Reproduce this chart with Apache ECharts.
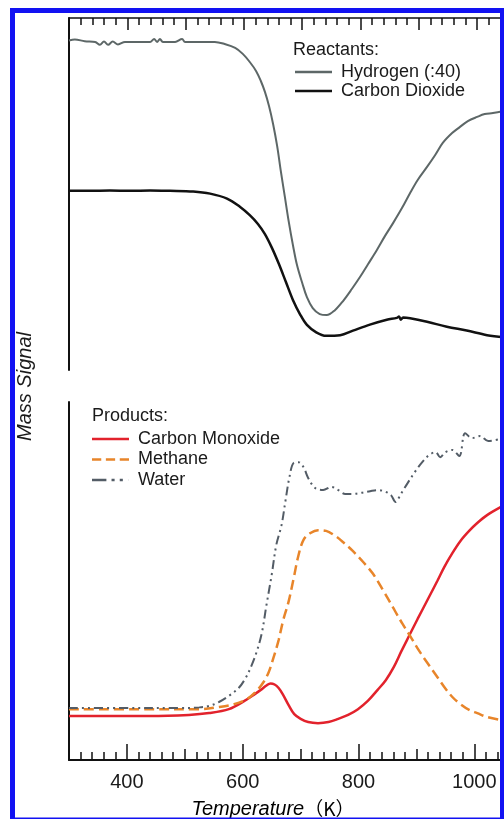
<!DOCTYPE html>
<html><head><meta charset="utf-8">
<script src="https://cdn.jsdelivr.net/npm/echarts@6.0.0/dist/echarts.min.js"></script>
<style>html,body{margin:0;padding:0;background:#fff;}#c{width:504px;height:819px;}</style>
</head><body><div id="c"></div>
<script>
// ---- data (temperature in K, mass signal in arbitrary units) ----
const xLabelValues = [400, 600, 800, 1000];

const h2Temp = [300,310,327,345,353,360,367,375,384,396,413,439,446,451,456,461,482,494,499,525,550,567,585,598,610,621,629,636,643,650,657,663,670,677,684,691,700,708,718,730,742,756,770,785,799,813,828,842,856,871,885,898,914,928,941,957,970,984,1000,1013,1027,1046];
const h2Signal = [93.6,93.9,93.4,93.2,92.4,93.3,92.4,93.3,92.5,93.2,93.2,93.2,94.0,93.2,94.0,93.2,93.2,94.0,93.2,93.2,93.2,92.6,91.5,89.8,87.5,84.9,82.1,79.0,75.0,69.9,63.6,56.8,49.4,42.0,35.5,29.8,24.7,20.7,17.6,15.9,15.6,17.0,19.6,23.0,26.4,30.1,34.1,38.1,41.8,46.0,50.3,54.0,57.7,61.1,64.5,67.3,69.0,70.7,71.9,72.7,73.0,73.6];

const co2Temp = [300,336,370,405,439,473,513,542,571,593,610,624,636,648,660,672,684,696,708,724,741,765,787,816,845,862,866,869,873,885,914,948,982,1017,1046];
const co2Signal = [50.9,50.9,51.0,50.9,51.0,50.9,50.7,50.1,48.7,46.4,44.0,41.5,38.6,34.7,30.1,25.0,19.9,15.9,12.8,10.7,9.7,9.9,11.2,12.9,14.3,14.8,15.2,14.3,14.9,14.7,13.7,12.3,11.2,9.9,9.3];

const coTemp = [300,439,507,542,576,603,619,633,641,648,655,662,669,679,689,700,713,730,748,765,782,799,816,833,847,861,874,888,902,919,936,948,962,976,991,1005,1022,1046];
const coSignal = [12.3,12.3,12.6,13.1,14.2,16.5,18.2,19.8,20.8,21.4,21.1,20.1,18.4,15.4,12.8,11.5,10.6,10.3,10.6,11.5,12.6,14.2,16.5,19.6,22.3,26.0,30.4,34.9,39.4,44.7,50.0,53.9,57.8,61.2,64.0,66.2,68.4,70.7];

const ch4Temp = [300,439,525,559,585,607,624,636,645,653,662,670,679,688,696,705,717,730,744,758,773,790,808,825,842,862,876,890,905,919,936,948,962,976,991,1005,1022,1046];
const ch4Signal = [14.2,14.2,14.2,14.8,15.6,17.0,19.3,21.8,24.6,28.5,33.5,39.1,44.1,50.8,57.0,61.5,63.4,64.2,64.0,62.8,60.9,58.4,55.3,52.0,47.5,41.9,38.0,34.4,30.4,27.1,23.2,20.4,17.6,15.6,14.0,13.1,12.0,11.2];

const h2oTemp = [300,387,490,525,542,559,576,593,605,615,624,633,641,650,658,667,674,681,688,696,705,713,725,739,753,765,777,790,804,820,833,847,856,864,873,885,897,910,922,933,941,950,962,974,984,996,1010,1024,1046];
const h2oSignal = [14.5,14.5,14.5,14.7,15.1,16.2,17.9,20.1,22.9,26.3,30.2,35.5,43.3,51.7,60.1,65.6,72.6,79.3,83.0,83.2,81.8,78.8,76.0,75.4,76.3,75.4,74.3,74.3,74.6,75.1,75.4,74.9,74.0,72.1,74.3,77.4,80.4,83.2,85.2,86.0,84.6,86.0,86.6,84.9,91.3,89.9,90.5,89.1,89.7];

// ---- build ----
function pairs(t, s) { return t.map((v, i) => [v, s[i]]); }
const FONT = "'Liberation Sans', Arial, sans-serif";
const CJK = "'Noto Sans CJK SC', 'Liberation Sans', sans-serif";
const INK = '#1a1a1a';
const XMIN = 300, XMAX = 1046;

const ICON_SOLID = 'path://M0,0H36V2.5H0Z';
const ICON_DASH = 'path://M0,0H9V2.5H0Z M13.5,0H22.5V2.5H13.5Z M27,0H36V2.5H27Z';
const ICON_DASHDOT = 'path://M0,0H14V2.5H0Z M19,0H22V2.5H19Z M27,0H30V2.5H27Z M35.9,0H36V2.5H35.9Z';

function baseX(grid, pos, interval, len, showLine, lw) {
  return {
    type: 'value', gridIndex: grid, position: pos, min: XMIN, max: XMAX, interval: interval,
    axisLine: { show: showLine, onZero: false, lineStyle: { color: '#111', width: lw } },
    axisTick: { show: true, inside: true, length: len, lineStyle: { color: '#111', width: 1.5 } },
    axisLabel: { show: false },
    splitLine: { show: false }
  };
}

const x0 = baseX(0, 'top', 100, 12, true, 1.5);
const x1 = baseX(0, 'top', 20, 7, false, 1);
const x2 = baseX(1, 'bottom', 100, 11, true, 2);
x2.axisLabel = {
  show: true, margin: 12, fontSize: 20, fontFamily: FONT, color: INK,
  formatter: function (v) { return xLabelValues.indexOf(v) >= 0 ? String(v) : ''; }
};
const x3 = baseX(1, 'bottom', 20, 8, false, 1);
const x4 = baseX(1, 'bottom', 100, 16, false, 1);
delete x4.interval;
x4.axisTick.customValues = xLabelValues;

function baseY(grid) {
  return {
    type: 'value', gridIndex: grid, min: 0, max: 100,
    axisLine: { show: true, lineStyle: { color: '#111', width: 2 } },
    axisTick: { show: false }, axisLabel: { show: false }, splitLine: { show: false }
  };
}

function lineSeries(name, xi, yi, t, s, color, width, type) {
  return {
    name: name, type: 'line', xAxisIndex: xi, yAxisIndex: yi, data: pairs(t, s),
    symbol: 'none', smooth: 0.35, color: color,
    lineStyle: { color: color, width: width, type: type || 'solid' }
  };
}

const chart = echarts.init(document.getElementById('c'), null, { renderer: 'canvas' });
chart.setOption({
  animation: false,
  backgroundColor: '#ffffff',
  grid: [
    { left: 69, right: 0, top: 18, height: 352 },
    { left: 69, right: 0, top: 402, height: 358 }
  ],
  xAxis: [x0, x1, x2, x3, x4],
  yAxis: [baseY(0), baseY(1)],
  legend: [
    {
      orient: 'vertical', left: 295, top: 62.5, padding: 0, itemGap: 0,
      itemWidth: 37, itemHeight: 10, selectedMode: false,
      textStyle: { fontSize: 18, fontFamily: FONT, color: INK, lineHeight: 19, padding: [0, 0, 0, 4] },
      data: [
        { name: 'Hydrogen (:40)', icon: ICON_SOLID },
        { name: 'Carbon Dioxide', icon: ICON_SOLID }
      ]
    },
    {
      orient: 'vertical', left: 92, top: 429, padding: 0, itemGap: 0.5,
      itemWidth: 37, itemHeight: 10, selectedMode: false,
      textStyle: { fontSize: 18, fontFamily: FONT, color: INK, lineHeight: 20, padding: [0, 0, 0, 4] },
      data: [
        { name: 'Carbon Monoxide', icon: ICON_SOLID },
        { name: 'Methane', icon: ICON_DASH },
        { name: 'Water', icon: ICON_DASHDOT }
      ]
    }
  ],
  series: [
    lineSeries('Hydrogen (:40)', 0, 0, h2Temp, h2Signal, '#5d6767', 2),
    lineSeries('Carbon Dioxide', 0, 0, co2Temp, co2Signal, '#111111', 2.5),
    lineSeries('Carbon Monoxide', 2, 1, coTemp, coSignal, '#e2222c', 2.5),
    lineSeries('Methane', 2, 1, ch4Temp, ch4Signal, '#e8852a', 2.5, [10, 5]),
    lineSeries('Water', 2, 1, h2oTemp, h2oSignal, '#535c66', 2, [9, 4, 2, 4, 2, 4])
  ],
  graphic: [
    { type: 'text', left: 293, top: 41, style: { text: 'Reactants:', font: '18px ' + FONT, fill: INK } },
    { type: 'text', left: 92, top: 407, style: { text: 'Products:', font: '18px ' + FONT, fill: INK } },
    { type: 'text', x: 25, y: 386.5, rotation: Math.PI / 2,
      style: { text: 'Mass Signal', font: 'italic 20px ' + FONT, fill: INK, align: 'center', verticalAlign: 'middle' } },
    { type: 'text', x: 273, y: 809,
      style: { text: '{i|Temperature}{n|（K）}', align: 'center', verticalAlign: 'middle',
        rich: { i: { fontStyle: 'italic', fontSize: 20, fontFamily: FONT, color: INK },
                n: { fontSize: 19, fontFamily: CJK, color: INK } } } },
    { type: 'rect', z: 100, shape: { x: 12.5, y: 10.5, width: 490, height: 809.5 },
      style: { fill: 'none', stroke: '#1212f2', lineWidth: 5 } }
  ]
});
</script>
</body></html>
